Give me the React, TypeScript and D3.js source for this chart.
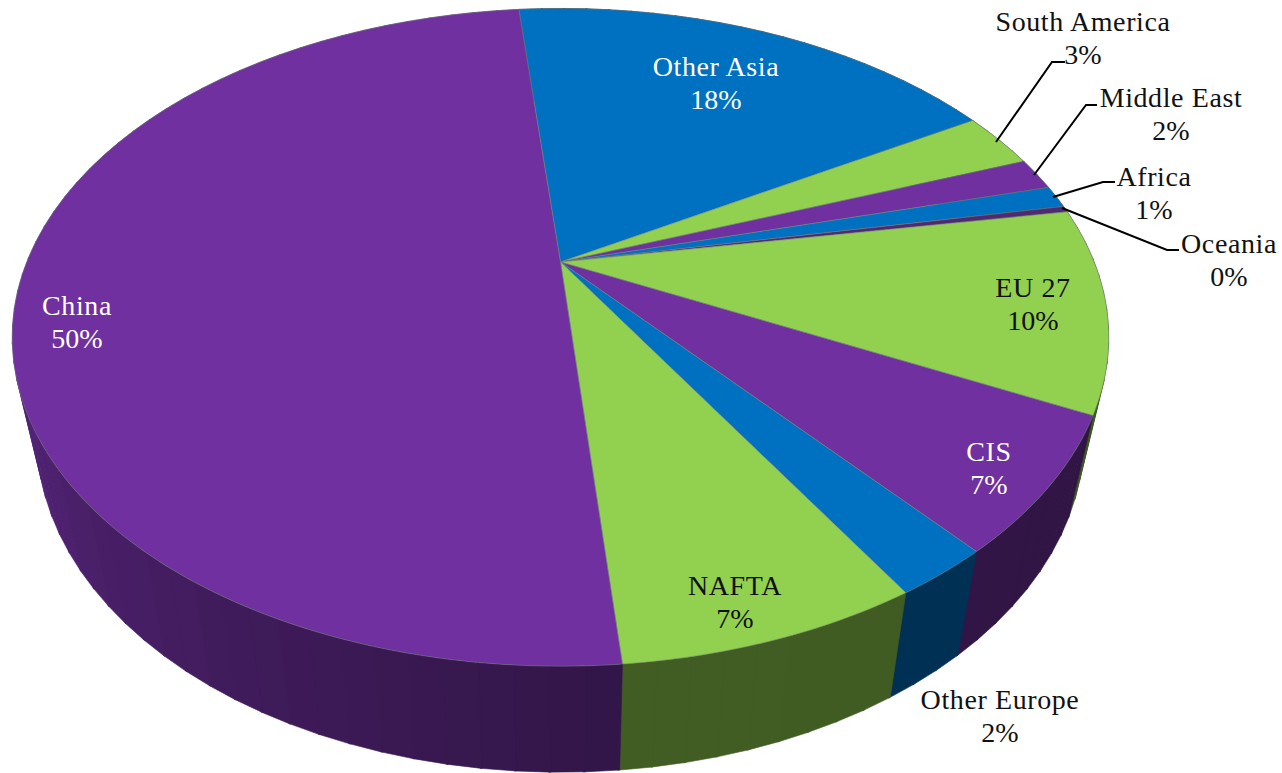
import React from "react";
import * as d3 from "d3";

const categories = ["Other Asia", "South America", "Middle East", "Africa", "Oceania", "EU 27", "CIS", "Other Europe", "NAFTA", "China"];
const shares = [18.1, 2.8, 1.6, 1.1, 0.3, 10.0, 6.6, 2.4, 7.3, 50.0];
const percentLabels = ["18%", "3%", "2%", "1%", "0%", "10%", "7%", "2%", "7%", "50%"];
const sliceColors = ["#0070c0", "#92d050", "#7030a0", "#0070c0", "#4f2a72", "#92d050", "#7030a0", "#0070c0", "#92d050", "#7030a0"];

// label anchors, in the same order as categories: [x, first baseline, text colour]
const labelSpots: [number, number, string][] = [
  [716, 76, "#fff"], [1083, 31, "#111"], [1171, 107, "#111"], [1154, 186, "#111"], [1229, 253, "#111"],
  [1033, 297, "#111"], [989, 461, "#fff"], [1000, 709, "#111"], [735, 595, "#111"], [77, 315, "#fff"],
];
const leaders: [number, number][][] = [
  [[996, 142], [1052, 62], [1065, 62]],
  [[1034, 175], [1086, 105], [1097, 105]],
  [[1053, 197], [1103, 182], [1115, 182]],
  [[1062, 208], [1167, 250], [1179, 250]],
];

const W = 1282, H = 773;
const cx = 560.5, cy = 262;     // apex of the slices in the picture
const k = 0.229, a = 533.7, b = 311.6; // perspective of the top disc
const startDeg = -5.5;

// circle angle (radians clockwise from top) and radius fraction -> top face
const top = (ang: number, r = 1): [number, number] => {
  const u = r * Math.sin(ang), v = r * Math.cos(ang), w = 1 + k * v;
  return [cx + (a * u) / w, cy - (b * v) / w];
};
const bottom = (ang: number): [number, number] => {
  const [x, y] = top(ang);
  const dy = cy - y;
  return [cx + (x - cx) * 0.955, cy - (dy * 1.02 - 98)];
};

const arcs = d3
  .pie<number>()
  .sort(null)
  .startAngle((startDeg * Math.PI) / 180)
  .endAngle(((startDeg + 360) * Math.PI) / 180)(shares);

const shade = d3
  .scaleLinear<number>()
  .domain([100, 175, 205, 240, 290])
  .range([0.42, 0.45, 0.55, 0.7, 0.82])
  .clamp(true);

const line = d3.line();
const STEP = (2 * Math.PI) / 360;

export default function App() {
  const walls: { d: string; fill: string }[] = [];
  arcs.forEach((s, i) => {
    const n = Math.max(1, Math.ceil((s.endAngle - s.startAngle) / (STEP * 3)));
    const base = d3.rgb(sliceColors[i]);
    for (let j = 0; j < n; j++) {
      const a0 = s.startAngle + ((s.endAngle - s.startAngle) * j) / n;
      const a1 = s.startAngle + ((s.endAngle - s.startAngle) * (j + 1)) / n + 0.003;
      const deg = (((a0 + a1) / 2) * 180) / Math.PI;
      const f = shade(deg);
      const c = d3.rgb(base.r * f, base.g * f, base.b * f);
      walls.push({ d: line([top(a0), top(a1), bottom(a1), bottom(a0)])! + "Z", fill: c.formatHex() });
    }
  });
  const tops = arcs.map((s, i) => {
    const n = Math.max(2, Math.ceil((s.endAngle - s.startAngle) / STEP));
    const pts: [number, number][] = [[cx, cy]];
    for (let j = 0; j <= n; j++) pts.push(top(s.startAngle + ((s.endAngle - s.startAngle) * j) / n));
    return { d: line(pts)! + "Z", fill: sliceColors[i] };
  });
  return (
    <svg width={W} height={H} style={{ position: "absolute", left: 0, top: 0, display: "block" }}>
      <rect width={W} height={H} fill="#fff" />
      <g>
        {walls.map((w, i) => (
          <path key={i} d={w.d} fill={w.fill} stroke={w.fill} strokeWidth={0.6} />
        ))}
      </g>
      <g>
        {tops.map((t, i) => (
          <path key={i} d={t.d} fill={t.fill} stroke="#6f7f78" strokeOpacity={0.55} strokeWidth={1} strokeLinejoin="round" />
        ))}
      </g>
      <g fill="none" stroke="#000" strokeWidth={2}>
        {leaders.map((l, i) => (
          <path key={i} d={line(l)!} />
        ))}
      </g>
      <g fontFamily="'Liberation Serif', serif" fontSize={28} textAnchor="middle">
        {categories.map((c, i) => (
          <text key={c} fill={labelSpots[i][2]}>
            <tspan x={labelSpots[i][0]} y={labelSpots[i][1]} letterSpacing={0.6}>{c}</tspan>
            <tspan x={labelSpots[i][0]} y={labelSpots[i][1] + 33}>{percentLabels[i]}</tspan>
          </text>
        ))}
      </g>
    </svg>
  );
}
